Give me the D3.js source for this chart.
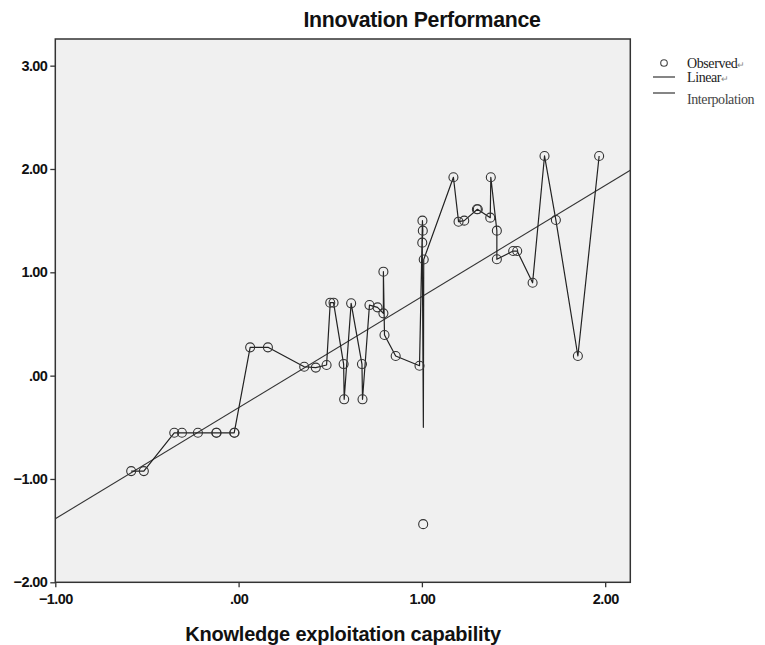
<!DOCTYPE html>
<html>
<head>
<meta charset="utf-8">
<script src="https://cdn.jsdelivr.net/npm/d3@7"></script>
<style>
  body { margin: 0; background: #fff; }
  svg { display: block; }
</style>
</head>
<body>
<div id="chart"></div>
<script>
// observed cases (x = knowledge exploitation capability, y = innovation performance)
const obsX = [-0.586, -0.517, -0.351, -0.309, -0.222, -0.122, -0.120, -0.024, -0.022,
  0.063, 0.160, 0.358, 0.421, 0.480, 0.500, 0.518, 0.573, 0.576, 0.614, 0.673, 0.676,
  0.714, 0.758, 0.790, 0.790, 0.796, 0.857, 0.987, 1.003, 1.005, 1.002, 1.010, 1.007,
  1.172, 1.200, 1.231, 1.300, 1.305, 1.373, 1.376, 1.409, 1.409, 1.498, 1.520, 1.604,
  1.669, 1.731, 1.851, 1.967];
const obsY = [-0.924, -0.924, -0.553, -0.553, -0.553, -0.553, -0.553, -0.553, -0.553,
  0.274, 0.274, 0.086, 0.078, 0.103, 0.706, 0.706, 0.112, -0.229, 0.700, 0.112, -0.229,
  0.683, 0.661, 0.603, 1.006, 0.393, 0.190, 0.096, 1.500, 1.403, 1.287, 1.124, -1.437,
  1.920, 1.490, 1.500, 1.610, 1.610, 1.529, 1.920, 1.403, 1.126, 1.206, 1.206, 0.899,
  2.126, 1.506, 0.190, 2.126];

// interpolation path, in drawing order
const lineX = [-0.586, -0.517, -0.351, -0.309, -0.222, -0.122, -0.024, 0.063, 0.160,
  0.358, 0.421, 0.480, 0.500, 0.518, 0.573, 0.576, 0.614, 0.673, 0.676, 0.714, 0.758,
  0.790, 0.790, 0.796, 0.857, 0.987, 1.003, 1.005, 1.002, 1.008, 1.010, 1.172, 1.200,
  1.231, 1.303, 1.373, 1.376, 1.409, 1.409, 1.498, 1.520, 1.604, 1.669, 1.731, 1.851, 1.967];
const lineY = [-0.924, -0.924, -0.553, -0.553, -0.553, -0.553, -0.553, 0.274, 0.274,
  0.086, 0.078, 0.103, 0.706, 0.706, 0.112, -0.229, 0.700, 0.112, -0.229, 0.683, 0.661,
  0.603, 1.006, 0.393, 0.190, 0.096, 1.500, 1.403, 1.287, -0.500, 1.124, 1.920, 1.490,
  1.500, 1.610, 1.529, 1.920, 1.403, 1.126, 1.206, 1.206, 0.899, 2.126, 1.506, 0.190, 2.126];

// linear fit
const fitIntercept = -0.31;
const fitSlope = 1.075;

const xTicks = [-1, 0, 1, 2];
const yTicks = [-2, -1, 0, 1, 2, 3];
const xDomain = [-1, 2.137];
const yDomain = [-2, 3.258];

const legendItems = ['Observed', 'Linear', 'Interpolation'];

const W = 765, H = 645;
const plot = { left: 55.3, right: 630.3, top: 39, bottom: 582.3 };

const fmt = d => d === 0 ? '.00' : d3.format('.2f')(d);

const svg = d3.select('#chart').append('svg')
  .attr('width', W).attr('height', H);

const x = d3.scaleLinear().domain(xDomain).range([plot.left, plot.right]);
const y = d3.scaleLinear().domain(yDomain).range([plot.bottom, plot.top]);

svg.append('defs').append('clipPath').attr('id', 'clip')
  .append('rect')
  .attr('x', plot.left).attr('y', plot.top)
  .attr('width', plot.right - plot.left).attr('height', plot.bottom - plot.top);

// plot background
svg.append('rect')
  .attr('x', plot.left).attr('y', plot.top)
  .attr('width', plot.right - plot.left).attr('height', plot.bottom - plot.top)
  .attr('fill', '#f0f0f0');

const g = svg.append('g').attr('clip-path', 'url(#clip)');

// linear fit line
const fitLine = d3.line().x(d => x(d)).y(d => y(fitIntercept + fitSlope * d));
g.append('path')
  .datum(xDomain)
  .attr('d', fitLine)
  .attr('fill', 'none')
  .attr('stroke', '#333')
  .attr('stroke-width', 1.1);

// interpolation line
const interp = d3.line().x(i => x(lineX[i])).y(i => y(lineY[i]));
g.append('path')
  .datum(d3.range(lineX.length))
  .attr('d', interp)
  .attr('fill', 'none')
  .attr('stroke', '#222')
  .attr('stroke-width', 1.2)
  .attr('stroke-linejoin', 'round');

// observed circles
g.selectAll('circle.obs')
  .data(d3.range(obsX.length))
  .join('circle')
  .attr('class', 'obs')
  .attr('cx', i => x(obsX[i]))
  .attr('cy', i => y(obsY[i]))
  .attr('r', 4.5)
  .attr('fill', 'none')
  .attr('stroke', '#333')
  .attr('stroke-width', 1.1);

// frame
svg.append('rect')
  .attr('x', plot.left).attr('y', plot.top)
  .attr('width', plot.right - plot.left).attr('height', plot.bottom - plot.top)
  .attr('fill', 'none')
  .attr('stroke', '#333')
  .attr('stroke-width', 1.5);

// axes
const tickFont = 'Arial, "Liberation Sans", sans-serif';

const xAxis = svg.append('g')
  .attr('transform', `translate(0,${plot.bottom})`)
  .call(d3.axisBottom(x).tickValues(xTicks).tickFormat(fmt).tickSize(5).tickPadding(6));
const yAxis = svg.append('g')
  .attr('transform', `translate(${plot.left},0)`)
  .call(d3.axisLeft(y).tickValues(yTicks).tickFormat(fmt).tickSize(5).tickPadding(3));

[xAxis, yAxis].forEach(ax => {
  ax.select('.domain').remove();
  ax.selectAll('.tick line').attr('stroke', '#333').attr('stroke-width', 1.3);
  ax.selectAll('.tick text')
    .attr('fill', '#111')
    .attr('font-family', tickFont)
    .attr('font-weight', 'bold')
    .attr('font-size', '14.5px')
    .attr('letter-spacing', '-0.6px');
});

// title
svg.append('text')
  .attr('x', 422).attr('y', 27)
  .attr('text-anchor', 'middle')
  .attr('font-family', tickFont)
  .attr('font-weight', 'bold')
  .attr('font-size', '21.3px')
  .attr('letter-spacing', '-0.3px')
  .attr('fill', '#111')
  .text('Innovation Performance');

// x axis title
svg.append('text')
  .attr('x', 343).attr('y', 641)
  .attr('text-anchor', 'middle')
  .attr('font-family', tickFont)
  .attr('font-weight', 'bold')
  .attr('font-size', '20px')
  .attr('letter-spacing', '-0.2px')
  .attr('fill', '#111')
  .text('Knowledge exploitation capability');

// legend
const legend = svg.append('g').attr('font-family', '"Liberation Serif", "Times New Roman", serif');
const legendY = [63, 77, 93];
legendItems.forEach((name, i) => {
  const ly = legendY[i];
  if (i === 0) {
    legend.append('circle')
      .attr('cx', 664).attr('cy', ly).attr('r', 3.3)
      .attr('fill', 'none').attr('stroke', '#444').attr('stroke-width', 1.1);
  } else {
    legend.append('line')
      .attr('x1', 653).attr('x2', 675).attr('y1', ly).attr('y2', ly)
      .attr('stroke', '#333').attr('stroke-width', 1.2);
  }
  const t = legend.append('text')
    .attr('x', 687).attr('y', ly + (i === 2 ? 11 : 5))
    .attr('font-size', '14px')
    .attr('letter-spacing', '-0.4px')
    .attr('fill', i === 2 ? '#444' : '#222')
    .text(name);
  if (i < 2) {
    t.append('tspan').attr('font-size', '9px').attr('fill', '#888').text('\u21B5');
  }
});
</script>
</body>
</html>
